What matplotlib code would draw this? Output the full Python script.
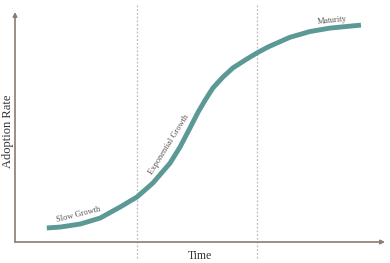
import matplotlib.pyplot as plt

# S-curve values (time 0..10, adoption 0..100)
time = [0.86, 1.22, 1.76, 2.30, 2.84, 3.30, 3.73, 4.19, 4.46, 4.73, 4.95,
        5.14, 5.35, 5.62, 5.89, 6.27, 6.54, 6.84, 7.43, 7.97, 8.51, 9.35]
adoption = [6.1, 6.5, 7.8, 10.4, 15.2, 19.6, 25.7, 34.3, 41.3, 49.6, 56.5,
            61.7, 67.0, 71.7, 75.7, 79.6, 82.2, 84.8, 89.0, 91.5, 93.0, 94.3]
phase_bounds = [3.3, 6.55]
labels = ["Slow Growth", "Exponential Growth", "Maturity"]
label_pos = [(1.72, 11.8, 14), (4.15, 42.5, 58), (8.57, 96.3, 6)]

curve_color = '#5b9997'
axis_color = '#8a7d72'
text_color = '#555555'

plt.rcParams['font.family'] = ['Liberation Serif', 'DejaVu Serif']

fig = plt.figure(figsize=(3.9, 2.63), dpi=100)
ax = fig.add_axes([15 / 390, 21 / 263, 370 / 390, 230 / 263])
ax.set_xlim(0, 10)
ax.set_ylim(0, 100)
for s in ax.spines.values():
    s.set_visible(False)
ax.set_xticks([])
ax.set_yticks([])

# axes with arrow heads
ax.annotate('', xy=(10, 0), xytext=(0, 0),
            arrowprops=dict(arrowstyle='-|>', color=axis_color, lw=1.2,
                            mutation_scale=6, shrinkA=0, shrinkB=0),
            annotation_clip=False)
ax.annotate('', xy=(0, 100), xytext=(0, 0),
            arrowprops=dict(arrowstyle='-|>', color=axis_color, lw=1.2,
                            mutation_scale=6, shrinkA=0, shrinkB=0),
            annotation_clip=False)

# phase separators
for b in phase_bounds:
    ax.plot([b, b], [-7, 103], color='#bbbbbb', lw=0.9, ls=(0, (1.5, 1.5)),
            clip_on=False, zorder=1)

ax.plot(time, adoption, color=curve_color, lw=3.5, solid_capstyle='butt',
        solid_joinstyle='round', zorder=3)

for lab, (x, y, rot) in zip(labels, label_pos):
    ax.text(x, y, lab, fontsize=6, color=text_color, rotation=rot,
            ha='center', va='center', rotation_mode='anchor')

ax.text(5.0, -3.5, 'Time', fontsize=8.5, color='#333333', ha='center', va='top')
ax.text(-0.19, 48, 'Adoption Rate', fontsize=9, color='#333333', ha='center',
        va='center', rotation=90)

fig.savefig('out.png', dpi=100)
